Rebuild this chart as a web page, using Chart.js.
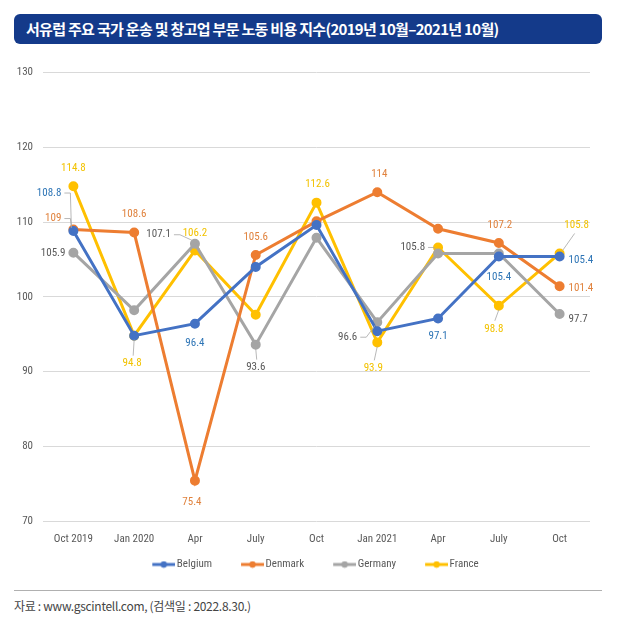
<!DOCTYPE html>
<html>
<head>
<meta charset="utf-8">
<script src="https://cdn.jsdelivr.net/npm/chart.js@4.4.1/dist/chart.umd.min.js"></script>
<style>
  html, body { margin: 0; padding: 0; background: #fff; }
  #page { position: relative; width: 627px; height: 638px; overflow: hidden; }
  #title {
    position: absolute; left: 14px; top: 14px; width: 588px; height: 30px;
    background: #143a8a; border-radius: 6px; color: #fff;
    font-family: "Noto Sans CJK KR", sans-serif; font-size: 15px; font-weight: 700;
    line-height: 30px; padding-left: 12px; box-sizing: border-box; letter-spacing: -0.7px;
  }
  #wrap { position: absolute; left: 0; top: 56px; width: 627px; height: 534px; }
  #rule { position: absolute; left: 14px; top: 590px; width: 588px; height: 1px; background: #b0b0b0; }
  #source {
    position: absolute; left: 14px; top: 597px; font-family: "Noto Sans CJK KR", sans-serif;
    font-size: 12px; color: #444; letter-spacing: -0.3px;
  }
</style>
</head>
<body>
<div id="page">
  <div id="title">서유럽 주요 국가 운송 및 창고업 부문 노동 비용 지수(2019년 10월–2021년 10월)</div>
  <div id="wrap"><canvas id="lineChart"></canvas></div>
  <div id="rule"></div>
  <div id="source">자료 : www.gscintell.com, (검색일 : 2022.8.30.)</div>
</div>
<script>
// categories and series
var categories = ['Oct 2019', 'Jan 2020', 'Apr', 'July', 'Oct', 'Jan 2021', 'Apr', 'July', 'Oct'];
var belgium = [108.8, 94.8, 96.4, 104.0, 109.6, 95.4, 97.1, 105.4, 105.4];
var denmark = [109.0, 108.6, 75.4, 105.6, 110.1, 114.0, 109.1, 107.2, 101.4];
var germany = [105.9, 98.2, 107.1, 93.6, 107.9, 96.6, 105.8, 105.8, 97.7];
var france = [114.8, 94.8, 106.2, 97.6, 112.6, 93.9, 106.6, 98.8, 105.8];
var yTicks = [70, 80, 90, 100, 110, 120, 130];

// the original uses a narrow face; take the first narrow one that is installed
function pickNarrow() {
    var g = document.createElement('canvas').getContext('2d');
    function w(f) { g.font = f; return g.measureText('Oct 2019 Germany 105.8').width; }
    var mono = w('11px monospace');
    var named = ['"Liberation Sans Narrow"', '"Roboto Condensed"', '"DejaVu Sans Condensed"'];
    for (var i = 0; i < named.length; i++) {
        if (Math.abs(w('11px ' + named[i] + ', monospace') - mono) > 0.5) return { family: named[i], squeeze: 1 };
    }
    return { family: 'Roboto', squeeze: 0.84 };
}
var narrow = pickNarrow();

// where each value label sits relative to its point: [dx, dy, align, leader]
var labelPlaces = {
    Belgium: { 0: [-12, -38, 'right', 'elbow'], 2: [0, 20, 'center'], 6: [0, 18, 'center'], 7: [0, 21, 'center'], 8: [9, 4, 'left'] },
    Denmark: { 0: [-12, -11, 'right', 'elbow'], 1: [0, -18, 'center'], 2: [-3, 22, 'center'], 3: [0, -18, 'center'], 5: [2, -18, 'center'], 7: [1, -18, 'center'], 8: [9, 2, 'left'] },
    Germany: { 0: [-8, 1, 'right'], 2: [-24, -9, 'right', 'elbow'], 3: [0, 23, 'center', 'down'], 5: [-20, 15, 'right', 'elbow'], 6: [-13, -6, 'right', 'elbow'], 8: [9, 5, 'left'] },
    France: { 0: [0, -18, 'center'], 1: [-2, 28, 'center', 'down'], 2: [0, -17, 'center'], 4: [1, -18, 'center'], 5: [-4, 26, 'center', 'down'], 7: [-5, 23, 'center', 'down'], 8: [17, -28, 'center', 'up'] }
};

var lineColors = { Belgium: '#4472c4', Denmark: '#ed7d31', Germany: '#a5a5a5', France: '#ffc000' };
var textColors = { Belgium: '#2e75b6', Denmark: '#e0823d', Germany: '#595959', France: '#f2c200' };

// legend mark: line with a dot, at the right of a wider transparent box
function legendMark(color) {
    var c = document.createElement('canvas');
    c.width = 44; c.height = 8;
    var g = c.getContext('2d');
    g.strokeStyle = color; g.lineWidth = 3;
    g.beginPath(); g.moveTo(21, 4); g.lineTo(44, 4); g.stroke();
    g.fillStyle = color;
    g.beginPath(); g.arc(32.5, 4, 3.2, 0, Math.PI * 2); g.fill();
    return c;
}

var valueLabels = {
    id: 'valueLabels',
    afterDatasetsDraw: function (chart) {
        var ctx = chart.ctx;
        ctx.save();
        ctx.font = '11px ' + narrow.family;
        ctx.textBaseline = 'middle';
        chart.data.datasets.forEach(function (ds, di) {
            var places = labelPlaces[ds.label];
            var meta = chart.getDatasetMeta(di);
            Object.keys(places).forEach(function (k) {
                var p = places[k];
                var pt = meta.data[k];
                var tx = pt.x + p[0], ty = pt.y + p[1];
                var txt = String(ds.data[k]);
                ctx.strokeStyle = '#a6a6a6';
                ctx.lineWidth = 0.8;
                if (p[3] === 'elbow') {
                    var sx = tx + 3;
                    ctx.beginPath();
                    ctx.moveTo(sx, ty); ctx.lineTo(sx + 6, ty); ctx.lineTo(pt.x - 2, pt.y - (pt.y > ty ? 3 : -3));
                    ctx.stroke();
                } else if (p[3] === 'down') {
                    ctx.beginPath(); ctx.moveTo(pt.x, pt.y + 4); ctx.lineTo(tx + 1, ty - 8); ctx.stroke();
                } else if (p[3] === 'up') {
                    ctx.beginPath(); ctx.moveTo(pt.x + 3, pt.y - 3); ctx.lineTo(tx - 2, ty + 8); ctx.stroke();
                }
                ctx.fillStyle = textColors[ds.label];
                ctx.textAlign = p[2];
                ctx.save();
                ctx.translate(tx, ty);
                ctx.scale(narrow.squeeze, 1);
                ctx.fillText(txt, 0, 0);
                ctx.restore();
            });
        });
        ctx.restore();
    }
};

function series(name, values) {
    return {
        label: name,
        data: values,
        borderColor: lineColors[name],
        backgroundColor: lineColors[name],
        borderWidth: 3,
        pointRadius: 3.5,
        pointHoverRadius: 3.5,
        tension: 0
    };
}

var tickFont = { family: narrow.family, size: 11 };

var lineChart = new Chart(document.getElementById('lineChart'), {
    type: 'line',
    data: {
        labels: categories,
        datasets: [series('Belgium', belgium), series('Denmark', denmark), series('Germany', germany), series('France', france)]
    },
    options: {
        responsive: true,
        maintainAspectRatio: false,
        animation: false,
        layout: { padding: { left: 0, right: 13, top: 15, bottom: 10 } },
        scales: {
            x: {
                offset: true,
                grid: { display: false, drawTicks: false },
                border: { display: false },
                ticks: { color: '#595959', font: tickFont, padding: 12, maxRotation: 0, autoSkip: false },
                afterFit: function (scale) { scale.height = 26; }
            },
            y: {
                min: 70, max: 130,
                afterBuildTicks: function (scale) { scale.ticks = yTicks.map(function (v) { return { value: v }; }); },
                grid: { color: '#d9d9d9', lineWidth: 1, drawTicks: false },
                border: { display: false },
                ticks: { color: '#595959', font: tickFont, padding: 10 },
                afterFit: function (scale) { scale.width = 43; }
            },
            // empty margin on the right of the plot
            side: {
                position: 'right',
                min: 0, max: 1,
                grid: { display: false, drawTicks: false },
                border: { display: false },
                ticks: { display: false },
                afterFit: function (scale) { scale.width = 24; }
            }
        },
        plugins: {
            tooltip: { enabled: false },
            legend: {
                position: 'bottom',
                labels: {
                    usePointStyle: true,
                    pointStyleWidth: 36,
                    color: '#595959',
                    font: tickFont,
                    padding: 12,
                    generateLabels: function (chart) {
                        var items = Chart.defaults.plugins.legend.labels.generateLabels(chart);
                        items.forEach(function (it) { it.pointStyle = legendMark(lineColors[it.text]); });
                        return items;
                    }
                }
            }
        }
    },
    plugins: [valueLabels]
});
</script>
</body>
</html>
